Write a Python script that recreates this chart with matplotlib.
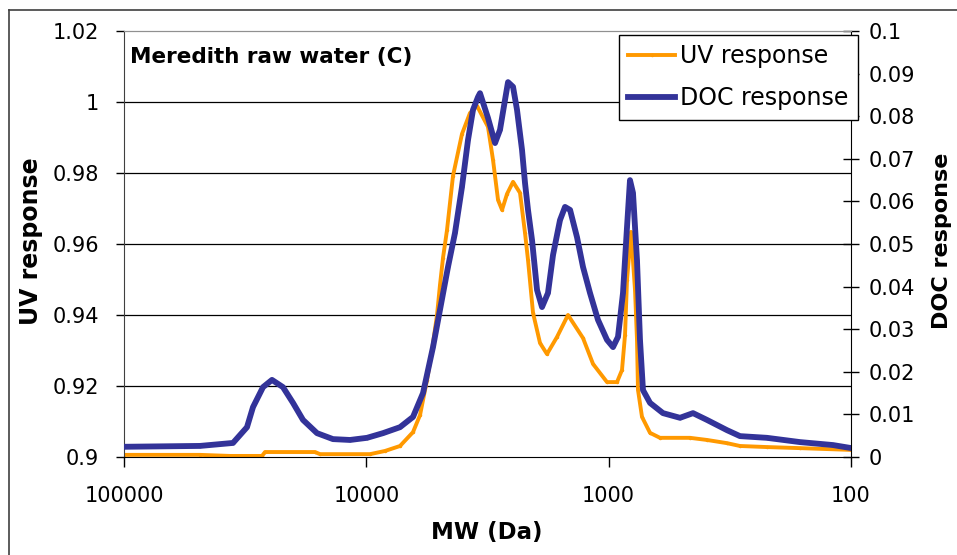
import matplotlib
matplotlib.use('Agg')
import matplotlib.pyplot as plt
from matplotlib.lines import Line2D

# MW (Da) and responses
mw_uv = [100000, 48570, 36520, 26940, 26190, 16280, 15530, 9660, 8375, 7262,
         6419, 6004, 5617, 5358, 5109, 4966, 4826, 4647, 4389, 4030,
         3735, 3494, 3148, 3001, 2861, 2754, 2627, 2481, 2322, 2214,
         2152, 2052, 1920, 1797, 1634, 1472, 1276, 1160, 1016, 923.8,
         881, 856, 840, 808.9, 778.5, 764, 756.8, 728.6, 675, 614,
         461.6, 392.8, 324.9, 287.1, 222.2, 162.4, 100]
uv = [0.9006, 0.9006, 0.9003, 0.9003, 0.9014, 0.9014, 0.9008, 0.9008, 0.9017, 0.9031,
      0.9070, 0.9118, 0.9217, 0.9301, 0.9400, 0.9485, 0.9561, 0.9639, 0.9792, 0.9910,
      0.9969, 0.9989, 0.9930, 0.9837, 0.9724, 0.9696, 0.9741, 0.9775, 0.9744, 0.9631,
      0.9555, 0.9406, 0.9321, 0.9290, 0.9338, 0.9400, 0.9335, 0.9262, 0.9211, 0.9211,
      0.9245, 0.9344, 0.9499, 0.9634, 0.9470, 0.9330, 0.9189, 0.9113, 0.9068, 0.9054,
      0.9054, 0.9048, 0.9039, 0.9031, 0.9028, 0.9025, 0.9020]

mw_doc = [100000, 48570, 35500, 31080, 29360, 26690, 24510, 22080, 20070, 18250,
          15980, 13730, 11680, 9936, 8535, 7262, 6419, 5836, 5307, 4603,
          4307, 4030, 3806, 3629, 3461, 3396, 3148, 2944, 2808, 2678,
          2602, 2481, 2389, 2278, 2214, 2152, 2071, 1975, 1884, 1780,
          1697, 1588, 1514, 1443, 1351, 1276, 1194, 1107, 1016, 959.6,
          915.2, 872.7, 840, 816.6, 793.7, 764, 742.6, 721.7, 675, 596.9,
          507.7, 448.7, 392.8, 324.9, 287.1, 222.2, 162.4, 118.6, 100]
doc = [0.0024, 0.0026, 0.0033, 0.0070, 0.0117, 0.0164, 0.0181, 0.0164, 0.0127, 0.0087,
       0.0056, 0.0042, 0.0040, 0.0045, 0.0056, 0.0070, 0.0094, 0.0150, 0.0258, 0.0446,
       0.0526, 0.0634, 0.0744, 0.0815, 0.0845, 0.0854, 0.0796, 0.0737, 0.0768, 0.0838,
       0.0880, 0.0869, 0.0815, 0.0721, 0.0643, 0.0580, 0.0509, 0.0392, 0.0352, 0.0385,
       0.0474, 0.0556, 0.0587, 0.0580, 0.0516, 0.0446, 0.0385, 0.0322, 0.0275, 0.0258,
       0.0282, 0.0385, 0.0540, 0.0650, 0.0620, 0.0462, 0.0275, 0.0157, 0.0127, 0.0103,
       0.0092, 0.0103, 0.0087, 0.0063, 0.0049, 0.0045, 0.0035, 0.0028, 0.0021]

x_ticks = [100000, 10000, 1000, 100]
x_labels = ['100000', '10000', '1000', '100']
uv_ticks = [0.9, 0.92, 0.94, 0.96, 0.98, 1.0, 1.02]
uv_labels = ['0.9', '0.92', '0.94', '0.96', '0.98', '1', '1.02']
doc_ticks = [0, 0.01, 0.02, 0.03, 0.04, 0.05, 0.06, 0.07, 0.08, 0.09, 0.1]
doc_labels = ['0', '0.01', '0.02', '0.03', '0.04', '0.05', '0.06', '0.07', '0.08', '0.09', '0.1']

plt.rcParams['font.family'] = ['DejaVu Sans']
W, H = 957, 555
fig = plt.figure(figsize=(W / 100, H / 100), dpi=100)
ax = fig.add_axes([124 / W, 1 - 457 / H, (851 - 124) / W, (457 - 31) / H])
ax2 = ax.twinx()

l1, = ax.plot(mw_uv, uv, color='#FF9900', lw=2.8, marker='.', ms=3, label='UV response')
l2, = ax2.plot(mw_doc, doc, color='#333399', lw=4.2, marker='.', ms=3, label='DOC response')

ax.set_xscale('log')
ax.set_xlim(100000, 100)
ax.set_xticks(x_ticks)
ax.set_xticklabels(x_labels)
ax.minorticks_off()
ax.set_ylim(0.9, 1.02)
ax.set_yticks(uv_ticks)
ax.set_yticklabels(uv_labels)
ax2.set_ylim(0, 0.1)
ax2.set_yticks(doc_ticks)
ax2.set_yticklabels(doc_labels)

ax.tick_params(axis='x', direction='out', length=7, width=1, labelsize=15, pad=14)
ax.tick_params(axis='y', direction='out', length=6, width=1, labelsize=15, pad=12)
ax2.tick_params(axis='y', direction='inout', length=12, width=1, labelsize=15, pad=7)

for v in uv_ticks[1:-1]:
    ax.axhline(v, color='black', lw=0.9, zorder=0)

ax.spines['top'].set_color('#909090')
ax.spines['right'].set_visible(False)
ax.spines['left'].set_color('#404040')
for s in ['top', 'left', 'bottom']:
    ax2.spines[s].set_visible(False)
ax2.spines['top'].set_visible(True)
ax2.spines['top'].set_color('#909090')

fig.text(130 / W, 1 - 57 / H, 'Meredith raw water (C)', fontsize=15.5, fontweight='bold',
         ha='left', va='center')
fig.text(487 / W, 1 - 533 / H, 'MW (Da)', fontsize=16.5, fontweight='bold',
         ha='center', va='center')
fig.text(31 / W, 1 - 241 / H, 'UV response', fontsize=17, fontweight='bold',
         rotation=90, ha='center', va='center')
fig.text(942 / W, 1 - 241 / H, 'DOC response', fontsize=16, fontweight='bold',
         rotation=90, ha='center', va='center')

leg = ax2.legend(handles=[l1, l2], loc='upper right', bbox_to_anchor=(858 / W, 1 - 35 / H),
                 bbox_transform=fig.transFigure, fontsize=17, frameon=True, fancybox=False,
                 framealpha=1, edgecolor='black', borderaxespad=0, handlelength=2.0,
                 handletextpad=0.2, labelspacing=0.75, borderpad=0.4)
leg.get_frame().set_linewidth(1)

# outer chart frame
fig.add_artist(Line2D([9 / W, 9 / W], [0, 1 - 9.5 / H], transform=fig.transFigure,
                      color='#404040', lw=1.2))
fig.add_artist(Line2D([9 / W, 1], [1 - 9.5 / H, 1 - 9.5 / H], transform=fig.transFigure,
                      color='#404040', lw=1.2))

fig.savefig('out.png', dpi=100)
